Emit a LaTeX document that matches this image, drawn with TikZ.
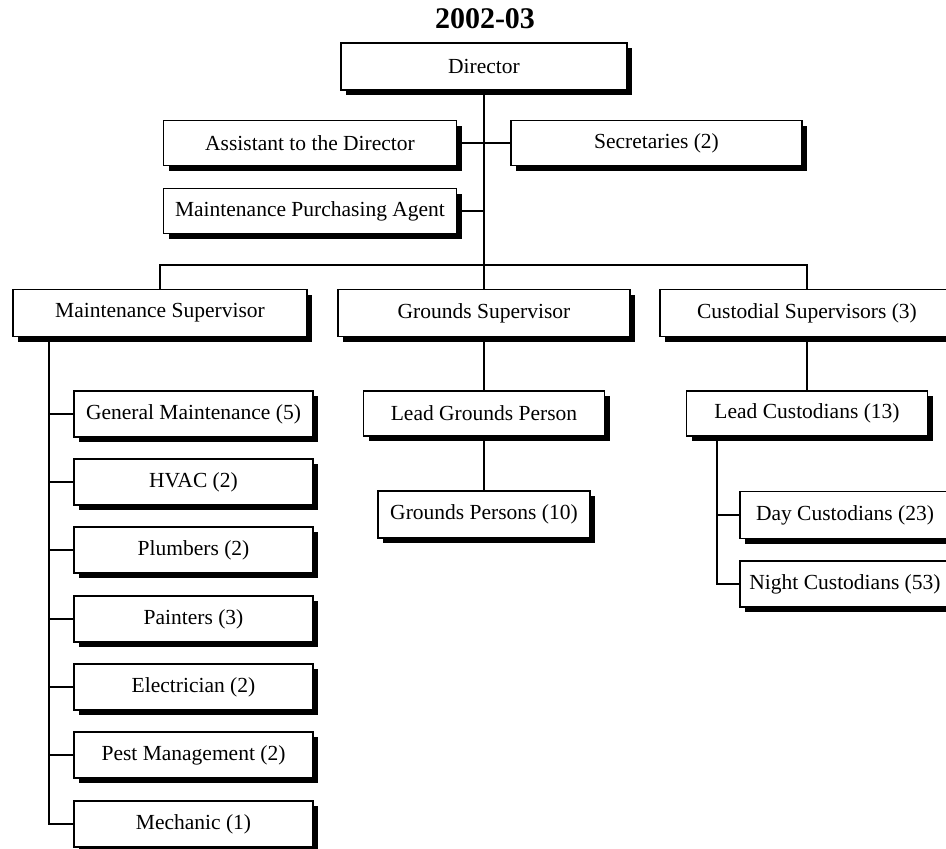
\documentclass[tikz,border=0pt]{standalone}
\usepackage{fontspec}
\setmainfont{Liberation Serif}
\usetikzlibrary{shadows}

\tikzset{
  orgbox/.style={draw=black, line width=1.5pt, fill=white, inner sep=0pt,
    font=\fontsize{21.5}{23}\selectfont,
    drop shadow={shadow xshift=5pt, shadow yshift=-5pt, fill=black, opacity=1}},
  wide/.style={orgbox, minimum width=293pt, minimum height=47pt},
  midbox/.style={orgbox, minimum width=240pt, minimum height=46pt},
  link/.style={line width=1.9pt, draw=black}
}

\begin{document}
\begin{tikzpicture}[x=1pt, y=-1pt]
  \clip (0,0) rectangle (946,849);
  \useasboundingbox (0,0) rectangle (946,849);

  % title
  \node[anchor=base, font=\fontsize{30}{32}\selectfont\bfseries] (title) at (485,28) {2002-03};

  % connector helpers
  \coordinate (bus) at (484,265);
  \coordinate (mstrunk) at (49,337);
  \coordinate (lctrunk) at (717,436);

  % top of the chart
  \node[orgbox, minimum width=286pt, minimum height=47pt] (dir) at (484,66.5) {Director};
  \node[wide, minimum height=45pt] (asst) at (310,143) {Assistant to the Director};
  \node[wide, minimum width=291pt, minimum height=45pt] (secr) at (656.5,143) {Secretaries (2)};
  \node[wide, minimum height=45pt] (mpa) at (310,211) {Maintenance Purchasing Agent};

  % supervisors
  \node[wide, minimum width=294pt] (ms) at (160,313) {Maintenance Supervisor};
  \node[wide, minimum width=292pt] (gs) at (484,313) {Grounds Supervisor};
  \node[wide, minimum width=294pt] (cs) at (807,313) {Custodial Supervisors (3)};

  % maintenance staff
  \node[midbox, minimum width=239pt] (gm)   at (193.5,414) {General Maintenance (5)};
  \node[midbox, minimum width=239pt] (hvac) at (193.5,482) {HVAC (2)};
  \node[midbox, minimum width=239pt] (plmb) at (193.5,550) {Plumbers (2)};
  \node[midbox, minimum width=239pt] (pnt)  at (193.5,619) {Painters (3)};
  \node[midbox, minimum width=239pt] (elec) at (193.5,687) {Electrician (2)};
  \node[midbox, minimum width=239pt] (pest) at (193.5,755) {Pest Management (2)};
  \node[midbox, minimum width=239pt] (mech) at (193.5,824) {Mechanic (1)};

  % grounds staff
  \node[midbox, minimum width=241pt, minimum height=45pt] (lgp) at (484,413.5) {Lead Grounds Person};
  \node[midbox, minimum width=212pt, minimum height=47pt] (gp) at (484,514.5) {Grounds Persons (10)};

  % custodial staff
  \node[midbox, minimum width=241pt, minimum height=45pt] (lc) at (807,413.5) {Lead Custodians (13)};
  \node[midbox, minimum width=210pt, minimum height=47pt] (day) at (845,515) {Day Custodians (23)};
  \node[midbox, minimum width=210pt, minimum height=46pt] (night) at (845,584) {Night Custodians (53)};

  % director trunk and staff links
  \draw[link] (dir.south) -- (bus);
  \draw[link] (asst.east) -- (secr.west);
  \draw[link] (mpa.east) -- (mpa.east -| dir.south);

  % supervisor bus
  \draw[link] (ms.north) |- (bus) -| (cs.north);
  \draw[link] (bus) -- (gs.north);

  % maintenance branch
  \draw[link] (mstrunk) |- (mech.west);
  \foreach \n in {gm,hvac,plmb,pnt,elec,pest}
    \draw[link] (mstrunk |- \n.west) -- (\n.west);

  % grounds branch
  \draw[link] (gs.south) -- (lgp.north);
  \draw[link] (lgp.south) -- (gp.north);

  % custodial branch
  \draw[link] (cs.south) -- (lc.north);
  \draw[link] (lctrunk) |- (night.west);
  \draw[link] (lctrunk |- day.west) -- (day.west);
\end{tikzpicture}
\end{document}
